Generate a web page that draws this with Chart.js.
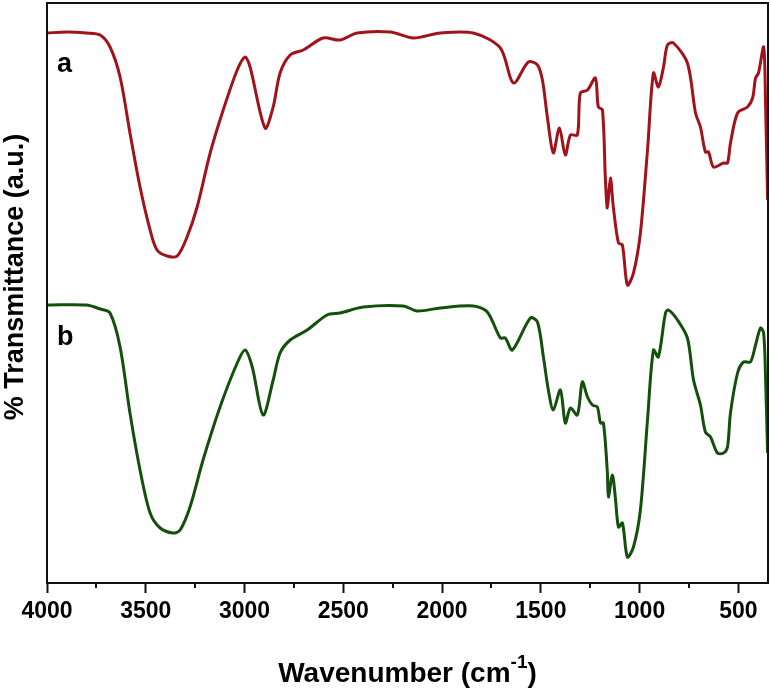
<!DOCTYPE html>
<html>
<head>
<meta charset="utf-8">
<script src="https://cdn.jsdelivr.net/npm/chart.js@4.4.1/dist/chart.umd.min.js"></script>
<style>
  html, body { margin: 0; padding: 0; background: #ffffff; }
  #wrap { width: 771px; height: 691px; position: relative; }
</style>
</head>
<body>
<div id="wrap"><canvas id="c" width="771" height="691"></canvas></div>
<script>
// ---- data (wavenumber in cm-1, transmittance in arbitrary units) ----
const wavenumbersA = [4000,3900,3800,3731,3681,3630,3580,3529,3478,3443,3392,3341,3291,3240,3174,3108,3037,2997,2972,2896,2855,2820,2769,2703,2602,2516,2430,2262,2146,2009,1842,1705,1639,1563,1517,1492,1467,1437,1406,1376,1350,1315,1300,1264,1224,1209,1188,1173,1163,1148,1133,1107,1087,1062,1031,996,960,930,905,879,859,829,758,717,692,667,651,626,575,555,540,504,454,428,413,398,372,362,352];
const transmittanceA = [550,551,550,548,536,506,450,396,353,333,327,327,346,376,430,473,513,526,516,455,476,510,528,533,545,543,550,551,545,550,550,535,500,521,518,503,466,430,455,428,448,448,490,493,505,476,473,403,375,405,376,340,338,298,310,350,433,510,496,516,538,540,520,470,456,431,431,416,420,420,440,470,476,485,505,510,536,476,383];

const wavenumbersB = [4000,3800,3731,3681,3630,3580,3529,3478,3427,3362,3326,3276,3210,3124,3037,2997,2961,2906,2855,2820,2769,2683,2582,2516,2399,2196,2126,2009,1842,1771,1705,1680,1644,1553,1517,1487,1462,1437,1401,1376,1350,1315,1290,1264,1239,1214,1198,1183,1163,1158,1138,1123,1107,1087,1062,1031,996,960,930,905,869,854,808,758,727,692,667,641,606,575,555,540,504,474,439,413,388,372,362,352];
const transmittanceB = [278,278,274,270,236,170,113,70,55,50,53,76,123,176,220,233,216,168,203,230,243,253,268,270,276,277,272,275,277,271,245,245,233,265,261,226,193,173,193,160,175,168,201,186,178,176,160,160,110,86,108,86,56,60,26,36,73,163,233,226,270,273,263,245,203,178,151,146,130,130,136,170,210,221,221,238,255,250,203,130];

const seriesNames = ['a', 'b'];
const xTickValues = [4000,3750,3500,3250,3000,2750,2500,2250,2000,1750,1500,1250,1000,750,500];
const xMajorStep = 500;
const xTitle = 'Wavenumber (cm';
const xTitleSup = '-1';
const yTitle = '% Transmittance (a.u.)';

const toPoints = (xs, ys) => xs.map((x, i) => ({x: x, y: ys[i]}));

const FONT = "'Liberation Sans', Arial, Helvetica, sans-serif";

const framePlugin = {
  id: 'frame',
  afterDraw(chart) {
    const {ctx, chartArea: a, scales} = chart;
    ctx.save();
    // box frame
    ctx.strokeStyle = '#111';
    ctx.lineWidth = 2;
    ctx.strokeRect(a.left, a.top, a.right - a.left, a.bottom - a.top);
    // minor ticks
    const xs = scales.x;
    ctx.lineWidth = 2;
    xTickValues.forEach(v => {
      if (v % xMajorStep !== 0) {
        const px = Math.round(xs.getPixelForValue(v));
        ctx.beginPath();
        ctx.moveTo(px, a.bottom);
        ctx.lineTo(px, a.bottom + 5);
        ctx.stroke();
      }
    });
    // series labels
    ctx.fillStyle = '#000';
    ctx.font = 'bold 27px ' + FONT;
    ctx.textAlign = 'left';
    ctx.textBaseline = 'alphabetic';
    ctx.fillText(seriesNames[0], 57, 72);
    ctx.fillText(seriesNames[1], 57, 345);
    // x title with superscript
    const big = 'bold 28px ' + FONT, small = 'bold 19px ' + FONT;
    ctx.font = big;
    const w1 = ctx.measureText(xTitle).width;
    const w3 = ctx.measureText(')').width;
    ctx.font = small;
    const w2 = ctx.measureText(xTitleSup).width;
    const total = w1 + w2 + w3;
    const cx = (a.left + a.right) / 2;
    let x0 = cx - total / 2;
    const base = 682;
    ctx.font = big;
    ctx.fillText(xTitle, x0, base);
    ctx.font = small;
    ctx.fillText(xTitleSup, x0 + w1, base - 14);
    ctx.font = big;
    ctx.fillText(')', x0 + w1 + w2, base);
    // y title
    ctx.save();
    ctx.translate(16, 277);
    ctx.rotate(-Math.PI / 2);
    ctx.font = 'bold 27px ' + FONT;
    ctx.textAlign = 'center';
    ctx.textBaseline = 'middle';
    ctx.fillText(yTitle, 0, 0);
    ctx.restore();
    ctx.restore();
  }
};

new Chart(document.getElementById('c'), {
  type: 'line',
  data: {
    datasets: [
      {
        label: seriesNames[0],
        data: toPoints(wavenumbersA, transmittanceA),
        borderColor: '#a1121b',
        borderWidth: 3,
        pointRadius: 0,
        tension: 0.3,
        fill: false
      },
      {
        label: seriesNames[1],
        data: toPoints(wavenumbersB, transmittanceB),
        borderColor: '#14500c',
        borderWidth: 3,
        pointRadius: 0,
        tension: 0.3,
        fill: false
      }
    ]
  },
  options: {
    responsive: false,
    animation: false,
    devicePixelRatio: 1,
    layout: { padding: { left: 0, right: 3, top: 3, bottom: 0 } },
    plugins: { legend: { display: false }, tooltip: { enabled: false } },
    scales: {
      x: {
        type: 'linear',
        reverse: true,
        min: 350,
        max: 4000,
        afterBuildTicks: (s) => { s.ticks = xTickValues.map(v => ({value: v})); },
        afterFit: (s) => { s.height = 108; },
        ticks: {
          autoSkip: false,
          maxRotation: 0,
          padding: 5,
          color: '#000',
          font: { family: FONT, size: 23, weight: 'bold' },
          callback: (v) => (v % xMajorStep === 0 ? String(v) : '')
        },
        grid: {
          display: true,
          drawOnChartArea: false,
          tickLength: 10,
          tickWidth: 2,
          tickColor: (ctx) => (ctx.tick && ctx.tick.value % xMajorStep === 0 ? '#111' : 'rgba(0,0,0,0)')
        },
        border: { display: true, color: '#111', width: 2 }
      },
      y: {
        type: 'linear',
        min: 0,
        max: 580,
        afterFit: (s) => { s.width = 47; },
        ticks: { display: false },
        grid: { display: false },
        border: { display: true, color: '#111', width: 2 }
      }
    }
  },
  plugins: [framePlugin]
});
</script>
</body>
</html>
